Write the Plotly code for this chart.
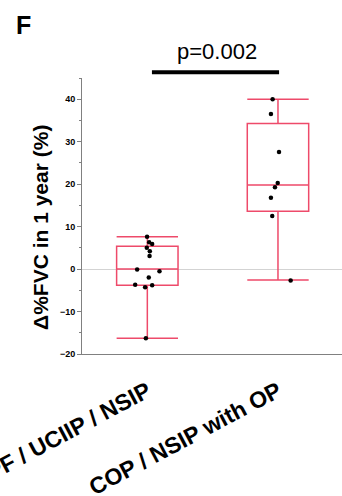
import plotly.graph_objects as go

# ---- data ----
categories = ["IPF / UCIIP / NSIP", "COP / NSIP with OP"]
group_pos = [1, 2]

# box statistics
q1 = [-3.8, 13.6]
median = [0.0, 19.8]
q3 = [5.4, 34.3]
lower_whisker = [-16.3, -2.6]
upper_whisker = [7.6, 40.0]

# individual values and horizontal jitter
g1_values = [7.6, 6.3, 5.9, 5.0, 4.2, 3.1, -0.1, -0.5, -2.0, -3.7, -3.8, -4.3, -16.3]
g1_jitter = [-0.002, 0.014, 0.037, -0.004, 0.019, 0.017, -0.078, 0.093, 0.011, -0.093, 0.037, -0.017, -0.011]
g2_values = [40.0, 36.5, 27.6, 20.3, 19.3, 16.8, 12.5, -2.7]
g2_jitter = [-0.041, -0.054, 0.008, -0.002, -0.023, -0.054, -0.044, 0.097]

y_ticks = [-20, -10, 0, 10, 20, 30, 40]
p_text = "p=0.002"

BOX_COLOR = "#EE4A6A"
AXIS_COLOR = "#808080"

fig = go.Figure()
fig.add_trace(go.Box(
    x=group_pos, q1=q1, median=median, q3=q3,
    lowerfence=lower_whisker, upperfence=upper_whisker,
    width=0.47, whiskerwidth=1,
    line=dict(color=BOX_COLOR, width=1.5),
    fillcolor="rgba(255,255,255,0)",
    boxpoints=False, showlegend=False, hoverinfo="skip",
))

fig.add_trace(go.Scatter(
    x=[group_pos[0] + j for j in g1_jitter], y=g1_values,
    mode="markers", marker=dict(color="black", size=4.5),
    showlegend=False, cliponaxis=False,
))
fig.add_trace(go.Scatter(
    x=[group_pos[1] + j for j in g2_jitter], y=g2_values,
    mode="markers", marker=dict(color="black", size=4.5),
    showlegend=False, cliponaxis=False,
))

fig.update_layout(
    width=342, height=496,
    margin=dict(l=82, r=0, t=78, b=142),
    paper_bgcolor="white", plot_bgcolor="white",
    font=dict(family="Liberation Sans, Arial, sans-serif", color="black"),
    xaxis=dict(
        range=[0.5, 2.49], tickmode="array", tickvals=group_pos, ticktext=categories,
        tickangle=-28, ticks="", showline=True, linecolor=AXIS_COLOR, linewidth=1,
        showgrid=False, zeroline=False,
        tickfont=dict(size=23, weight="bold", color="black"),
        ticklabelstandoff=14, ticklabeloverflow="allow", automargin=False,
    ),
    yaxis=dict(
        range=[-20, 45], tickmode="array", tickvals=y_ticks,
        ticks="outside", ticklen=4, tickcolor=AXIS_COLOR, tickwidth=1,
        minor=dict(dtick=5, tick0=0, ticks="outside", ticklen=2, tickcolor=AXIS_COLOR),
        showline=True, linecolor=AXIS_COLOR, linewidth=1,
        showgrid=False, zeroline=True, zerolinecolor="#D3D3D3", zerolinewidth=1,
        tickfont=dict(size=9, weight="bold", color="black"),
        automargin=False,
    ),
    shapes=[dict(type="line", xref="paper", yref="paper",
                 x0=0.269, x1=0.758, y0=1.021, y1=1.021,
                 line=dict(color="black", width=4))],
    annotations=[
        dict(text="Δ%FVC in 1 year (%)", textangle=-90, xref="paper", yref="paper",
             x=-0.162, y=0.46, xanchor="center", yanchor="middle", showarrow=False,
             font=dict(size=21, weight="bold", color="black")),
        dict(text="F", xref="paper", yref="paper", x=-0.262, y=1.25,
             xanchor="left", yanchor="top", showarrow=False,
             font=dict(size=25, weight="bold", color="black")),
        dict(text=p_text, xref="paper", yref="paper", x=0.519, y=1.095,
             xanchor="center", yanchor="middle", showarrow=False,
             font=dict(size=22, color="black")),
    ],
)

fig.write_html("out.html")
